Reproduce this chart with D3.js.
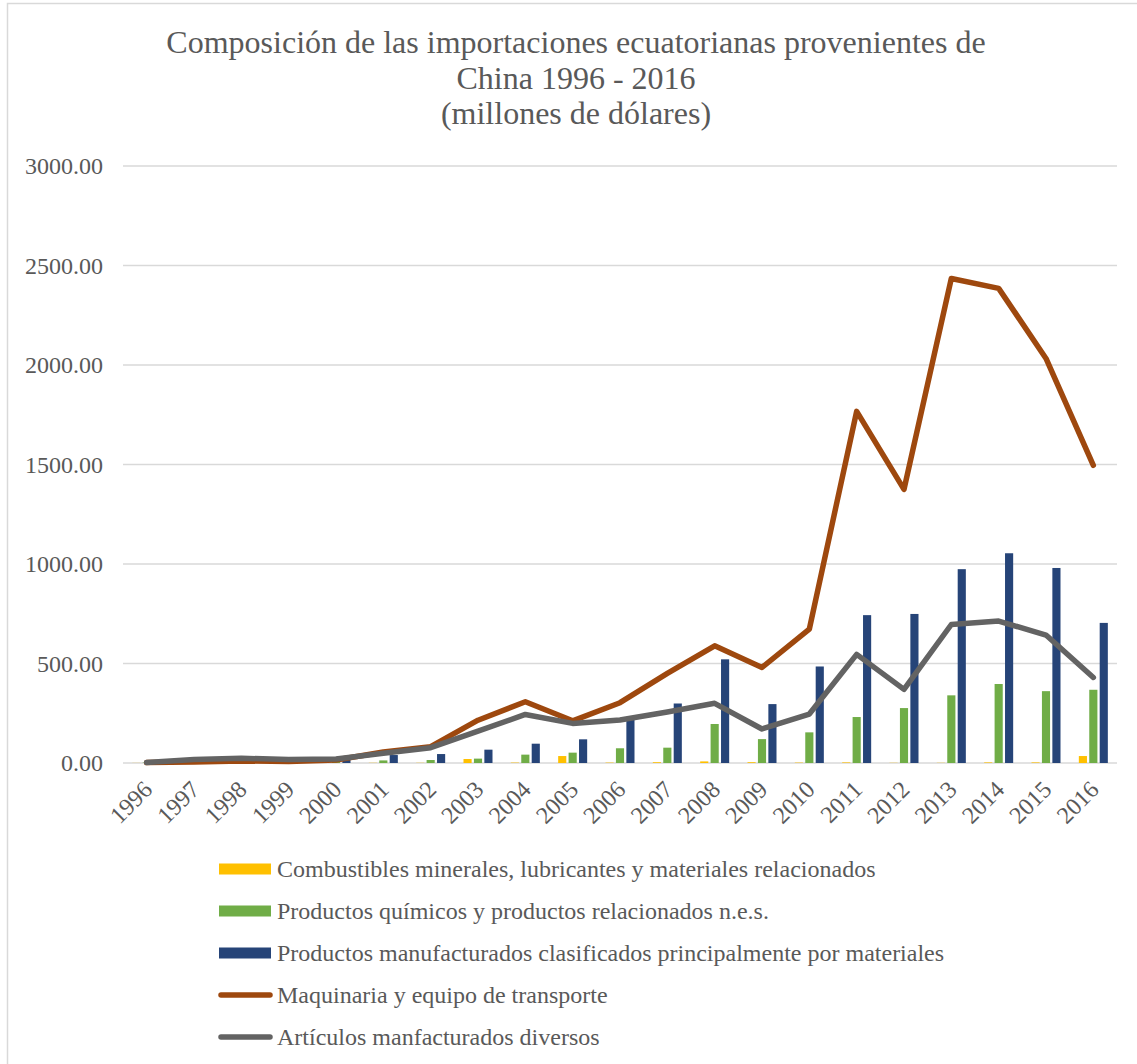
<!DOCTYPE html>
<html>
<head>
<meta charset="utf-8">
<script src="https://cdn.jsdelivr.net/npm/d3@7"></script>
<style>
  body { margin: 0; background: #fff; }
  svg text { font-family: "Liberation Serif", "Times New Roman", serif; fill: #595959; }
</style>
</head>
<body>
<svg id="chart"></svg>
<script>
// Data (millones de dólares)
const years = ['1996','1997','1998','1999','2000','2001','2002','2003','2004','2005','2006',
               '2007','2008','2009','2010','2011','2012','2013','2014','2015','2016'];
const combustibles = [0.5,0.5,0.5,0.5,0.5,1,1,20,2,35,2,4,8,4,2,3,1,1,3,3,35];
const quimicos = [2,3,4,4,5,13,15,22,42,52,74,77,196,120,154,231,276,340,397,361,368];
const manufacturados = [3,5,8,8,15,40,45,67,97,119,220,299,521,296,485,743,749,974,1054,980,704];
const maquinaria = [2,5,10,8,15,55,82,215,308,212,303,450,589,480,673,1767,1375,2435,2385,2033,1496];
const diversos = [3,17,24,17,20,49,77,160,244,199,216,256,300,171,246,546,370,696,713,643,430];
const yTicks = [0, 500, 1000, 1500, 2000, 2500, 3000];
const titleLines = ['Composición de las importaciones ecuatorianas provenientes de',
                    'China 1996 - 2016', '(millones de dólares)'];

const barSeries = [
    { name: 'Combustibles minerales, lubricantes y materiales relacionados', values: combustibles, color: '#FFC000' },
    { name: 'Productos químicos y productos relacionados n.e.s.', values: quimicos, color: '#70AD47' },
    { name: 'Productos manufacturados clasificados principalmente por materiales', values: manufacturados, color: '#264478' }
];
const lineSeries = [
    { name: 'Maquinaria y equipo de transporte', values: maquinaria, color: '#9E480E' },
    { name: 'Artículos manfacturados diversos', values: diversos, color: '#636363' }
];

function drawChart() {
    const width = 1137, height = 1064;
    const svg = d3.select('#chart').attr('width', width).attr('height', height);

    // outer chart border
    svg.append('rect')
        .attr('x', 7.5).attr('y', 3.5)
        .attr('width', width + 20).attr('height', height + 20)
        .attr('fill', 'none')
        .attr('stroke', '#d9d9d9')
        .attr('stroke-width', 1.5);

    // Scales
    const x = d3.scaleBand().domain(years).range([123, 1117]);
    const x1 = d3.scaleBand().domain(barSeries.map(d => d.name))
        .range([-14.5, 14.5]).paddingInner(0.22);
    const y = d3.scaleLinear().domain([0, 3000]).range([763, 166]);

    // Title
    svg.append('g').selectAll('text')
        .data(titleLines)
        .join('text')
        .attr('x', 576)
        .attr('y', (d, i) => 53 + i * 35.5)
        .attr('text-anchor', 'middle')
        .style('font-size', '32px')
        .text(d => d);

    // Gridlines
    svg.append('g').selectAll('line')
        .data(yTicks)
        .join('line')
        .attr('x1', 123).attr('x2', 1117)
        .attr('y1', d => y(d)).attr('y2', d => y(d))
        .attr('stroke', '#d9d9d9')
        .attr('stroke-width', 1.5);

    // Y axis labels
    svg.append('g').selectAll('text')
        .data(yTicks)
        .join('text')
        .attr('x', 103)
        .attr('y', d => y(d) + 8)
        .attr('text-anchor', 'end')
        .style('font-size', '24px')
        .text(d => d.toFixed(2));

    // X axis labels, rotated
    svg.append('g').selectAll('text')
        .data(years)
        .join('text')
        .attr('text-anchor', 'end')
        .attr('transform', d => `translate(${x(d) + x.bandwidth() / 2 + 7}, 791) rotate(-45)`)
        .style('font-size', '24px')
        .text(d => d);

    // Bars
    barSeries.forEach(s => {
        svg.append('g').selectAll('rect')
            .data(s.values)
            .join('rect')
            .attr('x', (d, i) => x(years[i]) + x.bandwidth() / 2 + x1(s.name))
            .attr('width', x1.bandwidth())
            .attr('y', d => y(d))
            .attr('height', d => y(0) - y(d))
            .attr('fill', s.color);
    });

    // Lines
    const line = d3.line()
        .x((d, i) => x(years[i]) + x.bandwidth() / 2)
        .y(d => y(d));

    lineSeries.forEach(s => {
        svg.append('path')
            .datum(s.values)
            .attr('fill', 'none')
            .attr('stroke', s.color)
            .attr('stroke-width', 5.5)
            .attr('stroke-linejoin', 'round')
            .attr('stroke-linecap', 'round')
            .attr('d', line);
    });

    // Legend
    const legend = svg.append('g');
    const allSeries = barSeries.map(s => ({ ...s, type: 'bar' }))
        .concat(lineSeries.map(s => ({ ...s, type: 'line' })));
    allSeries.forEach((s, i) => {
        const cy = 869 + i * 42;
        if (s.type === 'bar') {
            legend.append('rect')
                .attr('x', 219).attr('y', cy - 5.5)
                .attr('width', 52).attr('height', 11)
                .attr('fill', s.color);
        } else {
            legend.append('line')
                .attr('x1', 221).attr('x2', 270)
                .attr('y1', cy).attr('y2', cy)
                .attr('stroke', s.color)
                .attr('stroke-width', 5.5)
                .attr('stroke-linecap', 'round');
        }
        legend.append('text')
            .attr('x', 277)
            .attr('y', cy + 8)
            .style('font-size', '24px')
            .text(s.name);
    });
}

document.addEventListener('DOMContentLoaded', drawChart);
</script>
</body>
</html>
